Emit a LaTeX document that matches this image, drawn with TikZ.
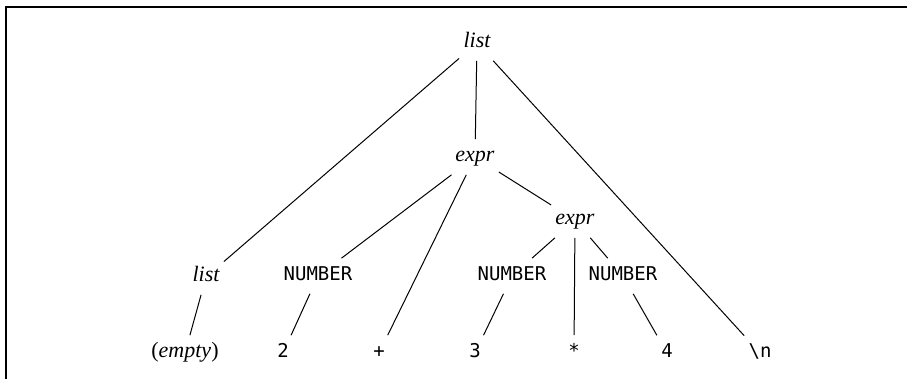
\documentclass[tikz,border=0pt]{standalone}
\usepackage{fontspec}
\setmainfont{Liberation Serif}
\setmonofont{DejaVu Sans Mono}

\begin{document}
\begin{tikzpicture}[x = 0.5pt, y = -0.5pt,
        sym/.style = {anchor = base, inner xsep = 2pt, inner ysep = 3.5pt,
            text height = 7.7pt, text depth = 2.7pt,
            font = \fontsize{11}{13}\selectfont\itshape},
        tok/.style = {sym, font = \fontsize{9.5}{12}\selectfont\ttfamily},
        edge/.style = {line width = 0.5pt}]
        \useasboundingbox (0,0) rectangle (907,379);
        \draw[line width = 1pt] (6,379) -- (6,7.5) -- (907,7.5);

        \node[sym] (L) at (477,48)  {list};
        \node[sym] (E) at (475,162) {expr};
        \node[sym] (e) at (575,225) {expr};

        \node[sym] (l) at (206,282) {list};
        \node[tok] (A) at (318,281) {NUMBER};
        \node[tok] (B) at (512,281) {NUMBER};
        \node[tok] (C) at (623,281) {NUMBER};

        \node[sym, font = \fontsize{11}{13}\selectfont] (a) at (185,358) {(\textit{empty})};
        \node[tok] (b) at (283,358) {2};
        \node[tok] (c) at (379,358) {+};
        \node[tok] (d) at (475,358) {3};
        \node[tok] (f) at (574,358) {*};
        \node[tok] (g) at (667,358) {4};
        \node[tok] (h) at (760,358) {\textbackslash n};

        \draw[edge] (L) -- (l);
        \draw[edge] (L) -- (E);
        \draw[edge] (L) -- (h);
        \draw[edge] (E) -- (A);
        \draw[edge] (E) -- (c);
        \draw[edge] (E) -- (e);
        \draw[edge] (e) -- (B);
        \draw[edge] (e) -- (f);
        \draw[edge] (e) -- (C);

        \draw[edge] (l) -- (a);
        \draw[edge] (A) -- (b);
        \draw[edge] (B) -- (d);
        \draw[edge] (C) -- (g);
\end{tikzpicture}
\end{document}
